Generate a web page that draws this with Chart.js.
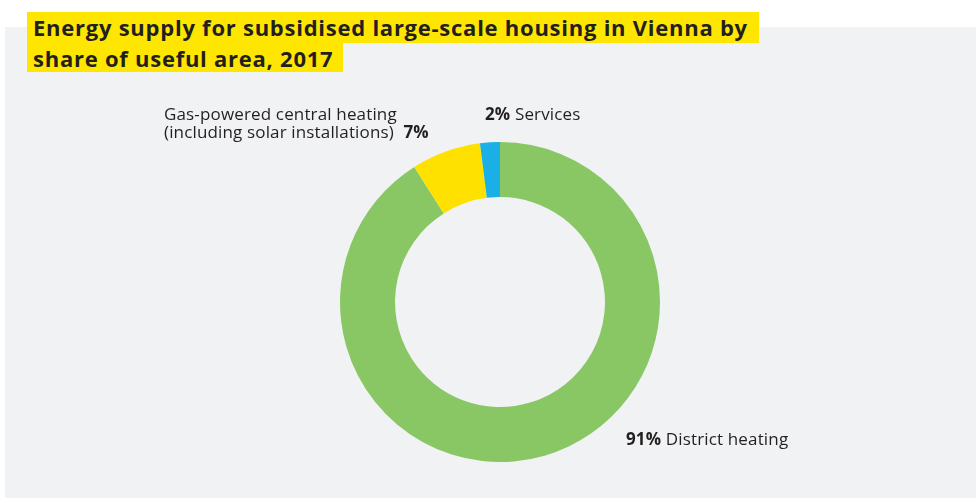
<!DOCTYPE html>
<html>
<head>
<meta charset="utf-8">
<script src="https://cdn.jsdelivr.net/npm/chart.js@4/dist/chart.umd.min.js"></script>
<style>
  html, body { margin: 0; padding: 0; background: #ffffff; }
  body { width: 976px; height: 498px; position: relative; overflow: hidden; font-family: "Open Sans", Lato, sans-serif; color: #231f20; }
  #panel { position: absolute; left: 5px; top: 27px; width: 971px; height: 471px; background: #f1f2f4; }
  .tl { position: absolute; left: 27px; background: #ffe600; font-weight: 700; font-size: 22px; line-height: 30px; padding: 0 11px 0 6px; white-space: nowrap; letter-spacing: 0.75px; }
  #t1 { top: 12px; height: 31px; }
  #t2 { top: 43px; height: 29px; padding-right: 10px; }
  #wrap { position: absolute; left: 340px; top: 142px; width: 320px; height: 320px; }
  .lbl { position: absolute; font-size: 17px; line-height: 18px; white-space: nowrap; letter-spacing: 0.15px; }
  .lbl b { font-weight: 700; }
  .gap { margin-left: 5px; }
</style>
</head>
<body>
<div id="panel"></div>
<div class="tl" id="t1">Energy supply for subsidised large-scale housing in Vienna by</div>
<div class="tl" id="t2">share of useful area, 2017</div>
<div id="wrap"><canvas id="c"></canvas></div>
<div class="lbl" style="left:164px; top:105px;">Gas-powered central heating<br>(including solar installations) <b class="gap">7%</b></div>
<div class="lbl" style="left:485px; top:105px;"><b>2%</b> Services</div>
<div class="lbl" style="left:626px; top:430px;"><b>91%</b> District heating</div>
<script>
const categories = ["District heating", "Gas-powered central heating (including solar installations)", "Services"];
const shares = [91, 7, 2];
const colours = ["#88c764", "#ffe100", "#1ab0e6"];

new Chart(document.getElementById("c"), {
  type: "doughnut",
  data: {
    labels: categories,
    datasets: [{ data: shares, backgroundColor: colours, borderWidth: 0 }]
  },
  options: {
    responsive: true,
    maintainAspectRatio: false,
    animation: false,
    cutout: "65.6%",
    rotation: 0,
    layout: { padding: 0 },
    plugins: { legend: { display: false }, tooltip: { enabled: false } }
  }
});
</script>
</body>
</html>
